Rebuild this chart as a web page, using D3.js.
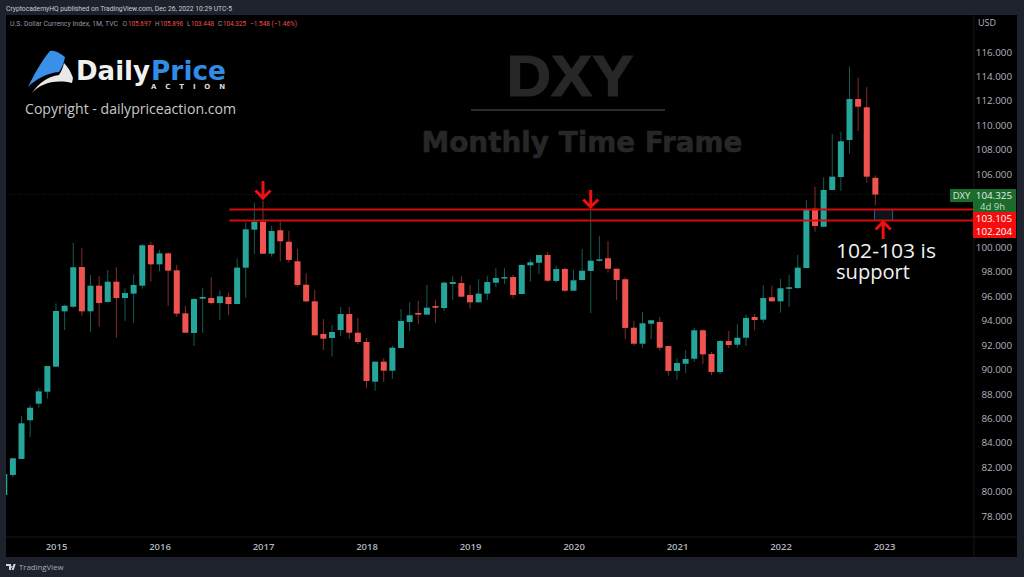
<!DOCTYPE html>
<html>
<head>
<meta charset="utf-8">
<script src="https://cdn.jsdelivr.net/npm/d3@7/dist/d3.min.js"></script>
<style>
  html, body { margin: 0; padding: 0; background: #1e222d; overflow: hidden; }
  svg { display: block; }
  text { font-family: "Open Sans", "Noto Sans", sans-serif; }
</style>
</head>
<body>
<svg id="chart" width="1024" height="577"></svg>
<script>
// monthly candles, Jul 2014 to Dec 2022
const startYear = 2014, startMonth = 6;
const opens = [79.72,81.36,82.67,85.84,87.20,88.18,90.23,94.76,95.14,98.39,94.76,96.86,95.53,97.19,95.85,96.21,96.86,100.19,98.61,99.51,98.12,94.60,92.99,95.80,95.85,95.44,95.94,95.36,98.34,101.45,102.10,99.48,101.40,100.46,98.86,96.94,95.58,92.91,92.58,93.23,94.54,93.01,92.25,89.00,90.64,89.90,91.76,93.89,94.63,94.49,95.20,95.03,97.00,97.08,96.10,95.50,96.21,97.11,97.47,97.57,96.18,98.53,98.74,99.38,97.25,98.23,96.45,97.33,98.07,98.91,99.11,98.25,97.39,93.42,92.11,93.75,93.89,91.92,89.88,90.47,90.88,93.21,91.27,89.79,92.33,92.03,92.60,94.30,94.08,95.91,95.58,96.65,96.67,98.31,103.17,101.69,104.70,105.76,108.79,112.15,111.47,105.697];
const highs = [81.44,82.73,86.19,87.09,88.46,90.28,95.42,95.31,100.38,99.97,97.74,97.66,98.15,98.37,96.65,97.79,100.28,100.46,99.78,99.62,98.56,95.20,95.88,96.65,97.57,96.48,96.29,99.11,102.05,103.66,103.82,101.75,102.10,101.34,99.87,97.88,96.51,94.13,93.64,95.12,95.12,94.22,92.60,90.64,90.94,91.95,94.95,95.50,95.63,96.94,95.69,97.19,97.66,97.66,96.92,97.39,97.66,98.29,98.29,97.74,98.61,99.02,99.38,99.62,98.50,98.34,98.15,99.87,103.00,100.91,100.52,98.25,97.55,93.99,94.71,94.03,94.30,91.92,90.92,91.59,93.42,93.29,91.43,92.41,93.15,93.72,94.49,94.54,96.92,96.86,97.41,97.74,99.38,103.88,104.97,105.74,109.29,109.47,114.80,113.90,113.11,105.896];
const lows = [79.72,81.17,82.67,84.45,86.87,87.61,90.23,93.23,95.06,94.38,93.09,93.50,95.47,92.60,93.99,93.83,96.62,97.19,98.04,95.20,94.30,93.01,91.92,93.01,95.31,94.05,94.46,95.36,95.88,99.43,99.48,99.24,98.86,98.74,96.78,95.50,92.80,91.59,91.05,92.74,92.50,92.09,88.46,88.26,88.97,89.22,91.76,93.15,93.72,94.49,93.83,94.79,95.69,95.96,94.98,95.47,95.69,96.75,97.00,95.83,96.18,97.19,97.82,97.16,97.11,96.35,96.45,97.33,94.60,98.83,97.93,95.69,92.50,91.95,91.73,92.47,91.54,89.49,89.16,89.69,90.61,90.45,89.55,89.65,91.76,91.76,91.92,93.23,93.83,95.58,94.65,95.12,96.59,98.31,101.28,101.69,104.70,104.62,107.67,109.53,105.30,103.448];
const closes = [81.44,82.73,85.59,86.87,88.21,90.28,94.79,95.22,98.37,94.76,96.86,95.44,97.19,95.85,96.26,96.92,100.17,98.61,99.51,98.09,94.57,93.01,95.77,95.94,95.44,95.99,95.36,98.34,101.48,102.10,99.48,101.34,100.50,98.97,96.92,95.58,92.80,92.52,93.07,94.54,93.01,92.25,89.06,90.64,89.90,91.78,93.97,94.44,94.49,95.06,95.06,97.11,97.16,95.96,95.50,96.21,97.16,97.49,97.57,96.10,98.56,98.78,99.38,97.27,98.23,96.45,97.30,98.09,98.91,99.02,98.25,97.33,93.40,92.11,93.78,94.03,91.78,89.88,90.53,90.86,93.21,91.24,89.79,92.33,92.00,92.60,94.22,94.05,95.85,95.58,96.65,96.73,98.34,103.14,101.75,104.70,105.79,108.69,112.15,111.52,105.79,104.325];

const yearLabels = [2015, 2016, 2017, 2018, 2019, 2020, 2021, 2022, 2023];
// 102 and 104 sit under the price tags on the axis
const priceTicks = d3.range(78, 117, 2).filter((d) => d !== 102 && d !== 104);
const supportLevels = [103.105, 102.204];
const lastPrice = 104.325;
const arrowsDown = [[30, 104.04], [68, 103.31]]; // month index, tip price
const arrowUp = [101.9, 102.08];
const supportBox = [100.9, 103.0];
const supportLineStart = 26.1;
const legendChange = "\u22121.548 (\u22121.46%)";

const svg = d3.select("#chart");
const green = "#26a69a", red = "#ef5350";

const pane = { left: 6, top: 15, right: 1017, bottom: 557, axisX: 974, axisY: 537 };

// month index -> pixel. Jan 2015 is index 6, Jan 2023 is index 102
const x = d3.scaleLinear().domain([6, 102]).range([56, 884]);
const y = d3.scaleLinear().domain([78, 116]).range([516, 52]);
const monthIndex = (yr) => (yr - startYear) * 12 - startMonth;

svg.append("rect").attr("width", 1024).attr("height", 577).attr("fill", "#1e222d");
svg.append("rect")
  .attr("x", pane.left).attr("y", pane.top)
  .attr("width", pane.right - pane.left).attr("height", pane.bottom - pane.top)
  .attr("fill", "#000");

svg.append("defs").append("clipPath").attr("id", "plot")
  .append("rect")
  .attr("x", pane.left).attr("y", pane.top)
  .attr("width", pane.axisX - pane.left).attr("height", pane.axisY - pane.top);

// axis separators
svg.append("line").attr("x1", pane.axisX).attr("x2", pane.axisX).attr("y1", pane.top).attr("y2", pane.bottom).attr("stroke", "#14161b");
svg.append("line").attr("x1", pane.left).attr("x2", pane.right).attr("y1", pane.axisY).attr("y2", pane.axisY).attr("stroke", "#14161b");

// watermark
const wm = svg.append("g").attr("fill", "#272727").attr("stroke", "#272727");
wm.append("text").attr("x", 570).attr("y", 96).attr("text-anchor", "middle").attr("stroke-width", 1.2)
  .style("font-family", "'Liberation Sans'").style("font-weight", 700).style("font-size", "57px").attr("textLength", 127).attr("lengthAdjust", "spacingAndGlyphs").text("DXY");
wm.append("rect").attr("x", 471).attr("y", 109).attr("width", 194).attr("height", 2).attr("stroke", "none").attr("fill", "#2b2b2b");
wm.append("text").attr("x", 582).attr("y", 152).attr("text-anchor", "middle").attr("stroke-width", 0.6)
  .style("font-family", "'DejaVu Sans'").style("font-weight", 700).style("font-size", "27.5px").attr("textLength", 321).attr("lengthAdjust", "spacingAndGlyphs").text("Monthly Time Frame");

// logo
const logo = svg.append("g");
logo.append("path").attr("fill", "#3a8fe8")
  .attr("d", "M28 87 C35 73 42 60 50 51 C54 50 60 53 65 57 C64 63 62 68 59 72 C47 73 36 79 28 87 Z");
logo.append("path").attr("fill", "#e8e8e8")
  .attr("d", "M32 93 C40 84 54 79 72 83 L73 78 C71 72 68 67 64 63 C63 68 61 72 59 75 C48 76 38 84 32 93 Z");
logo.append("text").attr("x", 76).attr("y", 80).attr("fill", "#f0f0f0")
  .style("font-family", "'DejaVu Sans'").style("font-weight", 700).style("font-size", "26px").attr("textLength", 74).attr("lengthAdjust", "spacingAndGlyphs").text("Daily");
logo.append("text").attr("x", 151).attr("y", 80).attr("fill", "#2f8de4")
  .style("font-family", "'DejaVu Sans'").style("font-weight", 700).style("font-size", "26px").attr("textLength", 75).attr("lengthAdjust", "spacingAndGlyphs").text("Price");
logo.append("text").attr("x", 151).attr("y", 89).attr("fill", "#d8d8d8")
  .style("font-family", "'DejaVu Sans'").style("font-weight", 700).style("font-size", "7px").attr("textLength", 74).text("ACTION");
svg.append("text").attr("x", 25).attr("y", 114).attr("fill", "#c9c9c9").style("font-size", "15px").attr("textLength", 211).attr("lengthAdjust", "spacingAndGlyphs").text("Copyright - dailypriceaction.com");

// candles
const candles = opens.map((o, i) => ({ i, o, h: highs[i], l: lows[i], c: closes[i] }));
const plot = svg.append("g").attr("clip-path", "url(#plot)");

// last price dotted line
plot.append("line").attr("x1", pane.left).attr("x2", pane.axisX)
  .attr("y1", y(lastPrice)).attr("y2", y(lastPrice))
  .attr("stroke", "#1d1d1d").attr("stroke-dasharray", "1 2");

plot.selectAll(".wick").data(candles).join("line").attr("class", "wick")
  .attr("x1", (d) => x(d.i)).attr("x2", (d) => x(d.i))
  .attr("y1", (d) => y(d.h)).attr("y2", (d) => y(d.l))
  .attr("stroke", (d) => (d.c >= d.o ? green : red))
  .attr("stroke-opacity", 0.55);

plot.selectAll(".body").data(candles).join("rect").attr("class", "body")
  .attr("x", (d) => x(d.i) - 3)
  .attr("width", 6)
  .attr("y", (d) => y(Math.max(d.o, d.c)))
  .attr("height", (d) => Math.max(1.5, Math.abs(y(d.o) - y(d.c))))
  .attr("fill", (d) => (d.c >= d.o ? green : red));

// support box, lines and arrows
svg.append("rect")
  .attr("x", x(supportBox[0])).attr("width", x(supportBox[1]) - x(supportBox[0]))
  .attr("y", y(supportLevels[0])).attr("height", y(supportLevels[1]) - y(supportLevels[0]))
  .attr("fill", "#0b1418").attr("stroke", "#1c5fa8").attr("stroke-width", 1);

svg.selectAll(".support").data(supportLevels).join("line").attr("class", "support")
  .attr("x1", x(supportLineStart)).attr("x2", pane.axisX)
  .attr("y1", (d) => y(d)).attr("y2", (d) => y(d))
  .attr("stroke", "#d60a0a").attr("stroke-width", 2);

const arrowPath = (dir) => `M0 0 L0 ${dir * 17} M-7.5 ${dir * 7.5} L0 0 L7.5 ${dir * 7.5}`;
svg.selectAll(".arrow-down").data(arrowsDown).join("path").attr("class", "arrow-down")
  .attr("transform", (d) => `translate(${x(d[0])},${y(d[1])})`)
  .attr("d", arrowPath(-1)).attr("fill", "none").attr("stroke", "#f00f0f").attr("stroke-width", 3);
svg.append("path")
  .attr("transform", `translate(${x(arrowUp[0])},${y(arrowUp[1])})`)
  .attr("d", arrowPath(1)).attr("fill", "none").attr("stroke", "#f00f0f").attr("stroke-width", 3);

svg.append("text").attr("x", 836).attr("y", 257.5).attr("fill", "#f2f2f2").style("font-size", "20.5px").attr("textLength", 100).attr("lengthAdjust", "spacingAndGlyphs").text("102-103 is");
svg.append("text").attr("x", 836).attr("y", 278.5).attr("fill", "#f2f2f2").style("font-size", "20.5px").attr("textLength", 74).attr("lengthAdjust", "spacingAndGlyphs").text("support");

// axes
const xAxis = d3.axisBottom(x)
  .tickValues(yearLabels.map(monthIndex))
  .tickFormat((d) => yearLabels[(d - 6) / 12])
  .tickSize(0).tickPadding(0);
const gx = svg.append("g").attr("transform", `translate(0,${pane.axisY + 10})`).call(xAxis);
gx.select(".domain").remove();
gx.selectAll("text").attr("fill", "#b2b5be").attr("dy", "0.32em").style("font-size", "9.5px").style("font-weight", 600);

const yAxis = d3.axisRight(y)
  .tickValues(priceTicks)
  .tickFormat(d3.format(".3f"))
  .tickSize(0).tickPadding(0);
const gy = svg.append("g").attr("transform", `translate(1012,0)`).call(yAxis);
gy.select(".domain").remove();
gy.selectAll("text").attr("fill", "#b2b5be").attr("text-anchor", "end").style("font-size", "9.8px");

svg.append("text").attr("x", 978).attr("y", 26).attr("fill", "#b2b5be").style("font-size", "9px").text("USD");

// price tags
svg.append("rect").attr("x", 950).attr("y", 189).attr("width", 23).attr("height", 13).attr("fill", "#1b6b2d");
svg.append("text").attr("x", 961.5).attr("y", 199).attr("text-anchor", "middle").attr("fill", "#d8e8dc").style("font-size", "9.5px").text("DXY");
svg.append("rect").attr("x", 973).attr("y", 189).attr("width", 43).attr("height", 23).attr("fill", "#1b6b2d");
svg.append("text").attr("x", 1012).attr("y", 198.5).attr("text-anchor", "end").attr("fill", "#e6efe8").style("font-size", "9.8px").text(lastPrice.toFixed(3));
svg.append("text").attr("x", 980).attr("y", 210).attr("fill", "#c4dcc9").style("font-size", "9.5px").text("4d 9h");
svg.append("rect").attr("x", 973).attr("y", 212).attr("width", 43).attr("height", 26).attr("fill", "#f40d0d");
svg.selectAll(".level-tag").data(supportLevels).join("text").attr("class", "level-tag")
  .attr("x", 1012).attr("y", (d, i) => 221.5 + i * 13.5)
  .attr("text-anchor", "end").attr("fill", "#fff").style("font-size", "9.8px")
  .text((d) => d.toFixed(3));

// header and legend
svg.append("text").attr("x", 6).attr("y", 11).attr("fill", "#c9ccd3").style("font-family", "Roboto").style("font-size", "7.6px")
  .attr("textLength", 226).attr("lengthAdjust", "spacingAndGlyphs")
  .text("CryptocademyHQ published on TradingView.com, Dec 26, 2022 10:29 UTC-5");
const last = candles[candles.length - 1];
svg.append("g").attr("transform", "translate(0,26)").selectAll("text")
  .data([
    { px: 10, t: "U.S. Dollar Currency Index, 1M, TVC", w: 108 },
    { px: 122.5, t: "O", w: 4.5 },
    { px: 128, t: last.o.toFixed(3), v: true, w: 23 },
    { px: 155, t: "H", w: 4.5 },
    { px: 160, t: last.h.toFixed(3), v: true, w: 23 },
    { px: 187, t: "L", w: 3.5 },
    { px: 191, t: last.l.toFixed(3), v: true, w: 23 },
    { px: 218, t: "C", w: 4.5 },
    { px: 223, t: last.c.toFixed(3), v: true, w: 23 },
    { px: 250, t: legendChange, v: true, w: 47 },
  ])
  .join("text")
  .attr("x", (d) => d.px)
  .attr("fill", (d) => (d.v ? red : "#9598a1"))
  .style("font-family", "Roboto").style("font-size", "7.4px")
  .attr("textLength", (d) => d.w)
  .attr("lengthAdjust", "spacingAndGlyphs")
  .text((d) => d.t);

// footer
svg.append("path").attr("fill", "#d0d3da").attr("d", "M6 564 h5 v6 h-2 v-4 h-3 Z M11.5 570 l2 -6 h2.2 l-2 6 Z M12 566 a1 1 0 1 0 0.01 0 Z");
svg.append("text").attr("x", 19).attr("y", 570).attr("fill", "#a6a9b2").style("font-size", "7.8px").text("TradingView");
</script>
</body>
</html>
